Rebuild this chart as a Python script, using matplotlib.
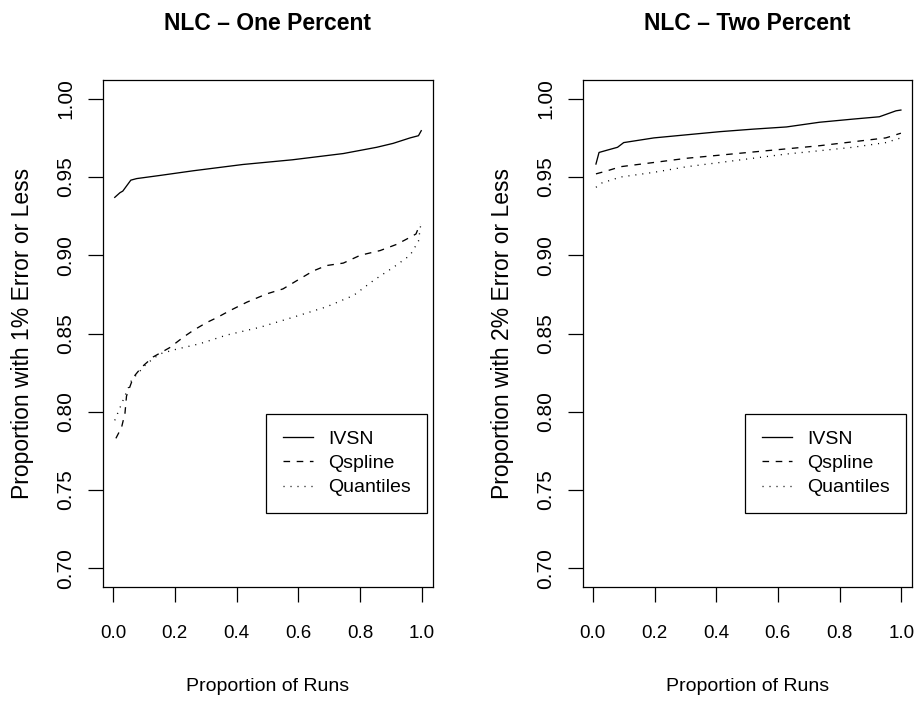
import matplotlib
matplotlib.use("Agg")
import matplotlib.pyplot as plt

plt.rcParams["font.family"] = ["Liberation Sans", "DejaVu Sans"]

# One percent error threshold
one_ivsn_x = [0.006, 0.023, 0.032, 0.058, 0.077, 0.152, 0.26, 0.42, 0.58, 0.745, 0.853, 0.906, 0.961, 0.988, 0.997]
one_ivsn_y = [0.937, 0.940, 0.941, 0.948, 0.949, 0.951, 0.954, 0.958, 0.961, 0.965, 0.969, 0.9715, 0.975, 0.9764, 0.9796]

one_qspl_x = [0.0097, 0.028, 0.039, 0.044, 0.066, 0.093, 0.13, 0.184, 0.228, 0.26, 0.303, 0.335, 0.379, 0.433,
              0.497, 0.55, 0.605, 0.648, 0.69, 0.745, 0.80, 0.864, 0.918, 0.961, 0.98, 0.993]
one_qspl_y = [0.783, 0.790, 0.799, 0.810, 0.822, 0.8285, 0.835, 0.841, 0.8477, 0.852, 0.857, 0.860, 0.8647, 0.870,
              0.8753, 0.8785, 0.885, 0.890, 0.8934, 0.895, 0.900, 0.903, 0.907, 0.9115, 0.9136, 0.920]

one_quant_x = [0.006, 0.03, 0.06, 0.109, 0.152, 0.206, 0.28, 0.368, 0.476, 0.583, 0.69, 0.778, 0.842, 0.907,
               0.961, 0.988, 0.997]
one_quant_y = [0.7945, 0.806, 0.820, 0.8307, 0.837, 0.840, 0.8434, 0.849, 0.854, 0.8604, 0.867, 0.8743, 0.8838,
               0.8923, 0.900, 0.909, 0.922]

# Two percent error threshold
two_ivsn_x = [0.01, 0.02, 0.047, 0.08, 0.10, 0.198, 0.305, 0.413, 0.52, 0.628, 0.735, 0.843, 0.929, 0.983, 0.999]
two_ivsn_y = [0.9583, 0.9657, 0.9672, 0.969, 0.972, 0.975, 0.977, 0.979, 0.9806, 0.982, 0.985, 0.987, 0.9885,
              0.9923, 0.9928]

two_qspl_x = [0.01, 0.047, 0.09, 0.198, 0.305, 0.413, 0.52, 0.628, 0.735, 0.843, 0.95, 0.999]
two_qspl_y = [0.952, 0.954, 0.9566, 0.9593, 0.962, 0.964, 0.966, 0.968, 0.970, 0.9725, 0.975, 0.978]

two_quant_x = [0.01, 0.026, 0.09, 0.198, 0.305, 0.413, 0.52, 0.628, 0.735, 0.843, 0.95, 0.999]
two_quant_y = [0.9434, 0.946, 0.950, 0.953, 0.9566, 0.9593, 0.962, 0.9647, 0.9668, 0.969, 0.972, 0.975]

x_ticks = [0.0, 0.2, 0.4, 0.6, 0.8, 1.0]
y_ticks = [0.70, 0.75, 0.80, 0.85, 0.90, 0.95, 1.00]
labels = ["IVSN", "Qspline", "Quantiles"]

fig = plt.figure(figsize=(9.18, 7.01), dpi=100)
W, H = 918, 701


def panel(left_px, right_px, title, ylabel, series):
    ax = fig.add_axes([left_px / W, 1 - 587 / H, (right_px - left_px) / W, (587 - 80) / H])
    styles = [dict(linestyle="-"), dict(linestyle=(0, (5, 5))), dict(linestyle=(0, (0.8, 4.5)))]
    for (xs, ys), lab, st in zip(series, labels, styles):
        ax.plot(xs, ys, color="black", lw=0.95, label=lab, **st)
    ax.set_xlim(-0.032, 1.035)
    ax.set_ylim(0.688, 1.012)
    ax.set_xticks(x_ticks)
    ax.set_xticklabels([f"{v:.1f}" for v in x_ticks], fontsize=13.5)
    ax.set_yticks(y_ticks)
    ax.set_yticklabels([f"{v:.2f}" for v in y_ticks], rotation=90, va="center", fontsize=15)
    ax.tick_params(direction="out", length=11, width=0.9, color="black")
    ax.tick_params(axis="x", pad=16)
    ax.tick_params(axis="y", pad=9)
    for s in ax.spines.values():
        s.set_linewidth(0.9)
    ax.set_xlabel("Proportion of Runs", fontsize=14, labelpad=26)
    ax.set_ylabel(ylabel, fontsize=16.5, labelpad=16)
    fig.text((left_px + right_px) / 2 / W, 1 - 23 / H, title, fontsize=16.5, fontweight="bold",
             ha="center", va="center")
    leg = ax.legend(loc="lower right", bbox_to_anchor=(0.982, 0.146), borderaxespad=0, fontsize=14,
                    fancybox=False, edgecolor="black", framealpha=1, handlelength=1.55,
                    handletextpad=0.77, labelspacing=0.34, borderpad=0.85)
    leg.get_frame().set_linewidth(0.9)
    return ax


panel(103, 433, "NLC \u2013 One Percent", "Proportion with 1% Error or Less",
      [(one_ivsn_x, one_ivsn_y), (one_qspl_x, one_qspl_y), (one_quant_x, one_quant_y)])
panel(583, 912, "NLC \u2013 Two Percent", "Proportion with 2% Error or Less",
      [(two_ivsn_x, two_ivsn_y), (two_qspl_x, two_qspl_y), (two_quant_x, two_quant_y)])

fig.savefig("out.png", dpi=100)
